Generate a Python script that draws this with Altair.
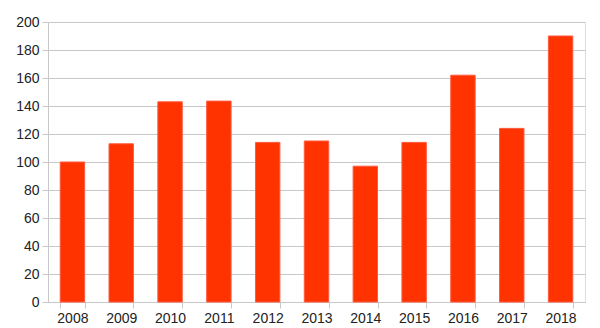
import altair as alt
import pandas as pd

years = ["2008", "2009", "2010", "2011", "2012", "2013", "2014", "2015", "2016", "2017", "2018"]
values = [100, 113, 143, 143.5, 114, 115, 97, 114, 162, 124, 190]

df = pd.DataFrame({"year": years, "value": values})

grid = "#c8c8c8"
chart = alt.Chart(df).mark_bar(color="#ff3300", stroke="#ff5a3c", strokeWidth=1).encode(
    x=alt.X("year:N", title=None, sort=years,
            scale=alt.Scale(paddingInner=0.5, paddingOuter=0.25),
            axis=alt.Axis(labelAngle=0, tickBand="extent", domainColor=grid, tickColor=grid,
                          tickSize=6, labelFontSize=14, labelColor="#222222",
                          labelFont="Liberation Sans", labelPadding=3, grid=False)),
    y=alt.Y("value:Q", title=None, scale=alt.Scale(domain=[0, 200]),
            axis=alt.Axis(values=list(range(0, 201, 20)), gridColor=grid, domainColor=grid,
                          tickColor=grid, tickSize=6, labelFontSize=14, labelColor="#222222",
                          labelFont="Liberation Sans", labelPadding=3)),
).properties(
    width=537, height=280,
    autosize=alt.AutoSizeParams(type="none"),
    padding={"left": 48, "top": 22, "right": 15, "bottom": 26},
).configure_view(stroke=grid).configure(background="white")

chart.save("out.html", embed_options={"renderer": "svg", "actions": False})
